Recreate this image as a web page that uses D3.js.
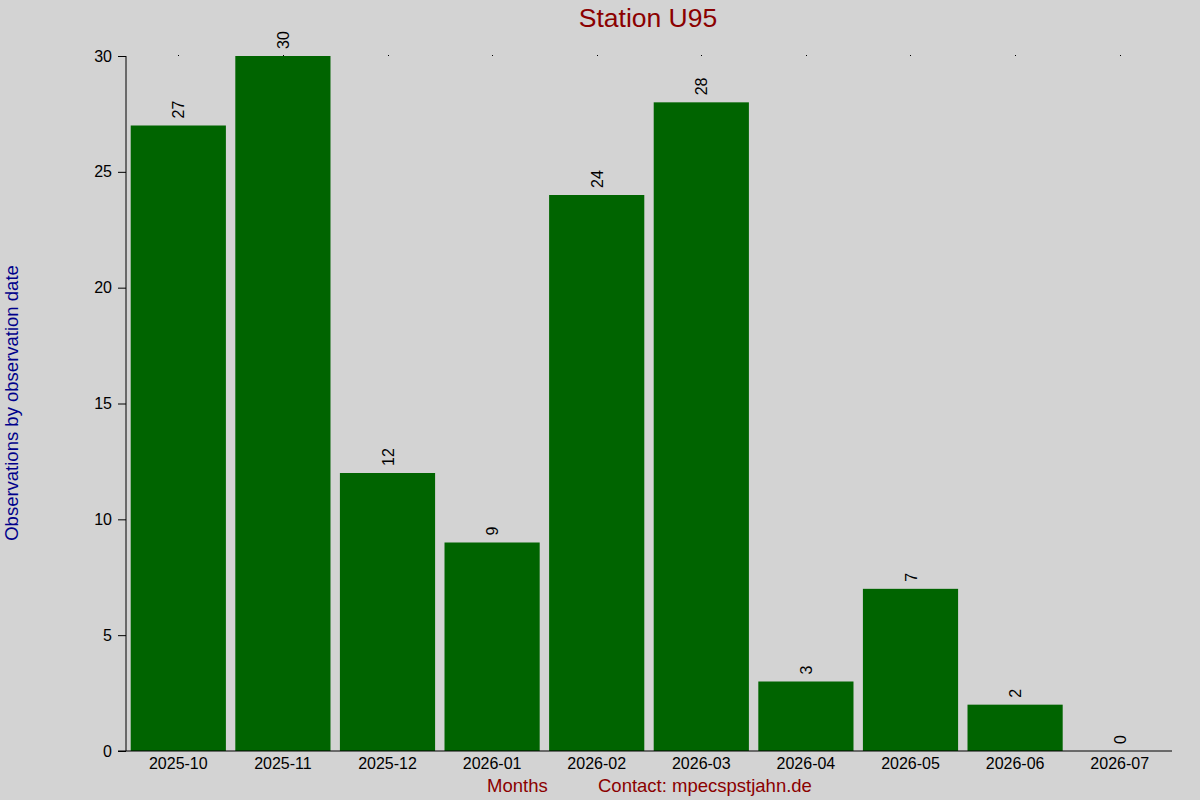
<!DOCTYPE html>
<html><head><meta charset="utf-8">
<script src="https://cdn.jsdelivr.net/npm/d3@7"></script>
<style>body{margin:0;background:#d3d3d3;}svg{display:block;font-family:"Liberation Sans",Arial,sans-serif;}</style>
</head><body>
<script>
const months = ["2025-10","2025-11","2025-12","2026-01","2026-02","2026-03","2026-04","2026-05","2026-06","2026-07"];
const counts = [27,30,12,9,24,28,3,7,2,0];
const yTicks = [0,5,10,15,20,25,30];

const W=1200,H=800;
const svg=d3.select("body").append("svg").attr("width",W).attr("height",H);
svg.append("rect").attr("width",W).attr("height",H).attr("fill","#d3d3d3");

const x=d3.scaleBand().domain(months).range([126,1172]).paddingInner(0.09).paddingOuter(0.045);
const y=d3.scaleLinear().domain([0,30]).range([751,56]);

// top dots at band centers
svg.append("g").selectAll("rect").data(months).join("rect")
  .attr("x",d=>Math.round(x(d)+x.bandwidth()/2)).attr("y",55).attr("width",1).attr("height",1).attr("fill","#000");

svg.append("g").selectAll("rect").data(months).join("rect")
  .attr("x",(d)=>x(d)).attr("width",x.bandwidth())
  .attr("y",(d,i)=>y(counts[i])).attr("height",(d,i)=>y(0)-y(counts[i]))
  .attr("fill","#006400");

// value labels
svg.append("g").selectAll("text").data(months).join("text")
  .attr("transform",(d,i)=>`translate(${x(d)+x.bandwidth()/2+6},${y(counts[i])-7}) rotate(-90)`)
  .attr("font-size",16).attr("fill","#000").text((d,i)=>counts[i]);

// y axis
const ya=svg.append("g").attr("transform","translate(126,0)")
  .call(d3.axisLeft(y).tickValues(yTicks).tickSize(8).tickPadding(6).tickFormat(d3.format("d")));
ya.select(".domain").attr("d","M0,56V751").attr("stroke","#000");
ya.selectAll("text").attr("font-size",16).attr("font-family","Liberation Sans, Arial, sans-serif").attr("fill","#000");

// x axis
const xa=svg.append("g").attr("transform","translate(0,751)")
  .call(d3.axisBottom(x).tickSize(0).tickPadding(7));
xa.select(".domain").attr("d","M118,0H1172").attr("stroke","#000");
xa.selectAll("text").attr("font-size",16).attr("font-family","Liberation Sans, Arial, sans-serif").attr("fill","#000");

svg.append("text").attr("x",648).attr("y",27).attr("text-anchor","middle").attr("font-size",26.5).attr("fill","#8b0000").text("Station U95");
svg.append("text").attr("transform","translate(18,403) rotate(-90)").attr("text-anchor","middle").attr("font-size",18.5).attr("fill","#00008b").text("Observations by observation date");
svg.append("text").attr("x",487).attr("y",792).attr("font-size",18.5).attr("fill","#8b0000").text("Months");
svg.append("text").attr("x",598).attr("y",792).attr("font-size",18.5).attr("fill","#8b0000").text("Contact: mpecspstjahn.de");
</script>
</body></html>
